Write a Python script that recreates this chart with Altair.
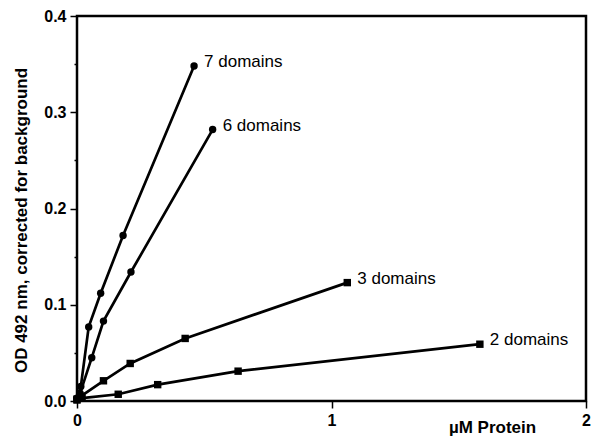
import altair as alt
import pandas as pd

# Data
x7 = [0.0, 0.015, 0.046, 0.093, 0.181, 0.46]
y7 = [0.003, 0.015, 0.077, 0.112, 0.172, 0.348]
x6 = [0.0, 0.012, 0.058, 0.104, 0.212, 0.533]
y6 = [0.002, 0.008, 0.045, 0.083, 0.134, 0.282]
x3 = [0.0, 0.016, 0.104, 0.209, 0.425, 1.062]
y3 = [0.002, 0.005, 0.021, 0.039, 0.065, 0.123]
x2 = [0.0, 0.02, 0.162, 0.317, 0.633, 1.583]
y2 = [0.001, 0.003, 0.007, 0.017, 0.031, 0.059]
series_names = ["7 domains", "6 domains", "3 domains", "2 domains"]
series_shapes = ["circle", "circle", "square", "square"]
x_ticks = [0.0, 1.0, 2.0]
y_ticks = [0, 0.1, 0.2, 0.3, 0.4]
y_minor = [0.05, 0.15, 0.25, 0.35]

rows = []
for name, xs, ys in zip(series_names, [x7, x6, x3, x2], [y7, y6, y3, y2]):
    for i, (a, b) in enumerate(zip(xs, ys)):
        rows.append({"series": name, "x": a, "y": b, "i": i, "last": i == len(xs) - 1})
df = pd.DataFrame(rows)

FONT = "Liberation Sans"
xscale = alt.Scale(domain=[0, 2], nice=False, zero=False)
yscale = alt.Scale(domain=[0, 0.4], nice=False, zero=False)

base = alt.Chart(df)

x_enc = alt.X("x:Q", scale=xscale, axis=alt.Axis(
    values=x_ticks, title="µM Protein", tickSize=7, tickWidth=1.5,
    tickColor="black", domain=False, grid=False, labelFont=FONT, labelFontSize=16,
    labelFontWeight="bold", labelColor="black", labelPadding=4, labelFlush=False,
    labelOverlap=False, labelExpr="format(datum.value, 'd')",
    titleFont=FONT, titleFontSize=17, titleFontWeight="bold", titleColor="black",
    titleX=415, titleY=26, titleAlign="center", titleBaseline="middle"))
y_enc = alt.Y("y:Q", scale=yscale, axis=alt.Axis(
    values=y_ticks, format=".1f", title="OD 492 nm, corrected for background",
    tickSize=7, tickWidth=1.5, tickColor="black", domain=False, grid=False,
    labelFont=FONT, labelFontSize=16, labelFontWeight="bold", labelColor="black",
    labelPadding=4, labelFlush=False, labelOverlap=False,
    titleFont=FONT, titleFontSize=17, titleFontWeight="bold", titleColor="black",
    titleX=-56, titleY=204, titleAngle=-90, titleAlign="center", titleBaseline="middle"))

lines = base.mark_line(color="black", strokeWidth=2.7).encode(
    x=x_enc, y=y_enc, detail="series:N", order="i:Q")

points = base.mark_point(filled=True, color="black", opacity=1).encode(
    x=x_enc, y=y_enc,
    shape=alt.Shape("series:N", scale=alt.Scale(domain=series_names, range=series_shapes), legend=None),
    size=alt.Size("series:N", scale=alt.Scale(domain=series_names, range=[55, 55, 70, 70]), legend=None))

labels = base.transform_filter("datum.last").mark_text(
    align="left", baseline="middle", dx=10, dy=-4, font=FONT, fontSize=17, color="black").encode(
    x=x_enc, y=y_enc, text="series:N")

main = alt.layer(lines, points, labels)

minor = alt.Chart(pd.DataFrame({"y": y_minor})).mark_point(opacity=0).encode(
    y=alt.Y("y:Q", scale=yscale, axis=alt.Axis(
        orient="left", values=y_minor, labels=False, title=None,
        tickSize=3, tickWidth=1.5, tickColor="black", domain=False, grid=False)))

chart = alt.layer(main, minor).resolve_axis(y="independent").properties(
    width=509, height=385,
    background="white",
    autosize=alt.AutoSizeParams(type="none"),
    padding={"left": 69, "top": 8, "right": 5, "bottom": 36},
).configure_view(stroke="black", strokeWidth=2.5)

chart.save("out.html", embed_options={"renderer": "svg", "actions": False})
